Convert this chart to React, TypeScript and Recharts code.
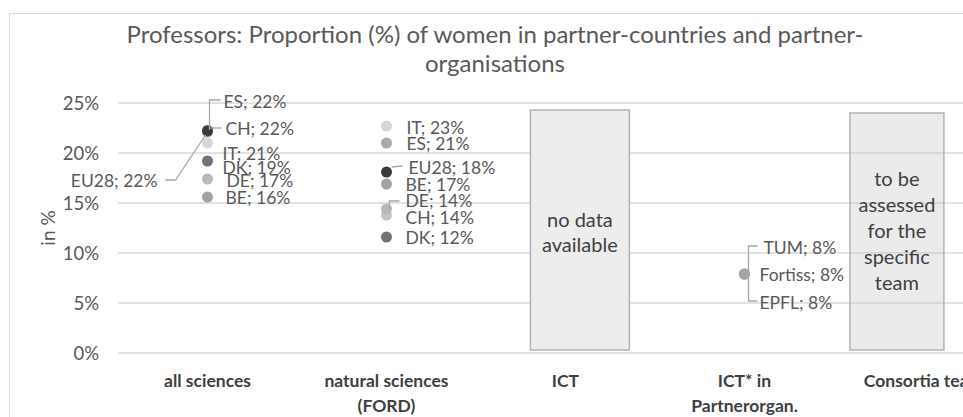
import React from 'react';
import { ComposedChart, Line, Bar, XAxis, YAxis, CartesianGrid, LabelList } from 'recharts';

const categories = ['all sciences', 'natural sciences (FORD)', 'ICT', 'ICT* in Partnerorgan.', 'Consortia team'];
const categoryLines: string[][] = [['all sciences'], ['natural sciences', '(FORD)'], ['ICT'], ['ICT* in', 'Partnerorgan.'], ['Consortia team']];
const yTicks = [0, 5, 10, 15, 20, 25];

// values in %
const IT = [21.0, 22.7, null, null, null];
const ES = [22.3, 21.0, null, null, null];
const CH = [22.1, 13.8, null, null, null];
const DE = [17.4, 14.4, null, null, null];
const BE = [15.6, 16.9, null, null, null];
const DK = [19.2, 11.6, null, null, null];
const EU28 = [22.2, 18.1, null, null, null];
const TUM = [null, null, null, 7.9, null];
const Fortiss = [null, null, null, 7.9, null];
const EPFL = [null, null, null, 7.9, null];
const boxICT = [null, null, 24.3, null, null];
const boxTeam = [null, null, null, null, 24.0];

const seriesNames = ['IT', 'ES', 'CH', 'DE', 'BE', 'DK', 'EU28', 'TUM', 'Fortiss', 'EPFL'];
const seriesValues: Record<string, (number | null)[]> = { IT, ES, CH, DE, BE, DK, EU28, TUM, Fortiss, EPFL };
const seriesColors: Record<string, string> = {
  IT: '#d6d6d6', ES: '#a9a9a9', CH: '#c4c4c4', DE: '#b8b8b8', BE: '#a3a3a3', DK: '#737373',
  EU28: '#3a3a3a', TUM: '#a6a6a6', Fortiss: '#a6a6a6', EPFL: '#a6a6a6',
};

const data = categories.map((cat, i) => {
  const row: Record<string, any> = { cat, boxICT: boxICT[i], boxTeam: boxTeam[i] };
  seriesNames.forEach((s) => { row[s] = seriesValues[s][i]; });
  return row;
});

// label placement relative to dot centre: dx, dy, anchor, leader path
type LabelLayout = { dx: number; dy: number; anchor?: 'start' | 'end'; leader?: string };
const labelLayout: Record<string, LabelLayout> = {
  'ES-0': { dx: 16, dy: -29, leader: 'M 2 0 V -30 H 13' },
  'CH-0': { dx: 18, dy: -4, leader: 'M 3 -4 H 14' },
  'EU28-0': { dx: -50, dy: 49, anchor: 'end', leader: 'M -2 4 L -32 49 H -42' },
  'IT-0': { dx: 15, dy: 10 },
  'DK-0': { dx: 15, dy: 6 },
  'DE-0': { dx: 19, dy: 1 },
  'BE-0': { dx: 18, dy: 0 },
  'IT-1': { dx: 20, dy: 1 },
  'ES-1': { dx: 20, dy: 0 },
  'EU28-1': { dx: 22, dy: -5, leader: 'M 5 -5 L 16 -6' },
  'BE-1': { dx: 19, dy: 0 },
  'DE-1': { dx: 19, dy: -9, leader: 'M 3 0 V -8 H 13' },
  'CH-1': { dx: 19, dy: 2 },
  'DK-1': { dx: 19, dy: 0 },
  'TUM-3': { dx: 19, dy: -27, leader: 'M 4 0 V -28 H 13' },
  'Fortiss-3': { dx: 15, dy: 0 },
  'EPFL-3': { dx: 15, dy: 28, leader: 'M 4 0 V 27 H 13' },
};

const FONT = 'Lato, "Noto Sans", sans-serif';

const makeLabel = (name: string) => (props: any) => {
  const { x, y, value, index } = props;
  if (value == null || x == null || y == null) return null;
  const lay = labelLayout[`${name}-${index}`];
  if (!lay) return null;
  const rounded = Math.round(value);
  return (
    <g>
      {lay.leader && (
        <path d={lay.leader} transform={`translate(${x},${y})`} fill="none" stroke="#a6a6a6" strokeWidth={1.3} />
      )}
      <text
        x={x + lay.dx}
        y={y + lay.dy}
        textAnchor={lay.anchor || 'start'}
        dominantBaseline="central"
        fontFamily={FONT}
        fontSize={17.5}
        fill="#595959"
      >
        {`${name}; ${rounded}%`}
      </text>
    </g>
  );
};

const boxTexts: Record<string, { lines: string[]; offsetX: number; width: number; firstY: number; step: number; fill: string }> = {
  boxICT: { lines: ['no data', 'available'], offsetX: 14.5, width: 99, firstY: 109, step: 25, fill: '#ededed' },
  boxTeam: { lines: ['to be', 'assessed', 'for the', 'specific', 'team'], offsetX: -26.5, width: 94, firstY: 65, step: 26, fill: 'rgba(190,190,190,0.3)' },
};

const makeBox = (key: string) => (props: any) => {
  const { x, y, width, height, payload } = props;
  if (!payload || payload[key] == null || !(height > 1)) return null;
  const cfg = boxTexts[key];
  const cx = x + width / 2 + cfg.offsetX;
  return (
    <g>
      <rect x={cx - cfg.width / 2} y={y} width={cfg.width} height={height - 3} fill={cfg.fill} stroke="#b3b3b3" strokeWidth={1.5} />
      {cfg.lines.map((l, i) => (
        <text key={i} x={cx} y={y + cfg.firstY + i * cfg.step} textAnchor="middle" dominantBaseline="central"
          fontFamily={FONT} fontSize={20} fill="#404040">{l}</text>
      ))}
    </g>
  );
};

const CategoryTick = (props: any) => {
  const { x, y, index } = props;
  const lines = categoryLines[index] || [];
  return (
    <g>
      {lines.map((l, i) => (
        <text key={i} x={x} y={y + 27 + i * 25} textAnchor="middle" dominantBaseline="central"
          fontFamily={FONT} fontSize={17.5} fontWeight="bold" fill="#404040">{l}</text>
      ))}
    </g>
  );
};

export default function App() {
  return (
    <div style={{ position: 'fixed', left: 0, top: 0, width: 963, height: 417, overflow: 'hidden', background: '#fff' }}>
      <div style={{ position: 'absolute', left: 9, top: 13, width: 1100, height: 600, border: '1.5px solid #d9d9d9', boxSizing: 'border-box' }} />
      <svg width={963} height={417} style={{ position: 'absolute', left: 0, top: 0 }}>
        <text x={495} y={43} textAnchor="middle" fontFamily={FONT} fontSize={24} fill="#595959">
          Professors: Proportion (%) of women in partner-countries and partner-
        </text>
        <text x={495} y={72} textAnchor="middle" fontFamily={FONT} fontSize={24} fill="#595959">
          organisations
        </text>
        <text x={0} y={0} transform="translate(47,228) rotate(-90)" textAnchor="middle" dominantBaseline="central"
          fontFamily={FONT} fontSize={19} fill="#595959">in %</text>
      </svg>
      <div style={{ position: 'absolute', left: 0, top: 0 }}>
        <ComposedChart width={1016} height={440} data={data} margin={{ top: 103, right: 3, bottom: 7, left: 1 }}>
          <CartesianGrid horizontal vertical={false} stroke="#d9d9d9" strokeWidth={1.5} />
          <XAxis dataKey="cat" type="category" axisLine={false} tickLine={false} tickSize={0} tickMargin={0}
            height={80} interval={0} tick={<CategoryTick />} />
          <YAxis domain={[0, 25]} ticks={yTicks} width={117} axisLine={false} tickLine={false} tickSize={0} tickMargin={19}
            tickFormatter={(v: number) => `${v}%`} tick={{ fontFamily: FONT, fontSize: 18.5, fill: '#595959' }} />
          <Bar dataKey="boxTeam" stackId="box" shape={makeBox('boxTeam')} isAnimationActive={false} />
          <Bar dataKey="boxICT" stackId="box" shape={makeBox('boxICT')} isAnimationActive={false} />
          {seriesNames.map((s) => (
            <Line key={s} dataKey={s} stroke="none" isAnimationActive={false} activeDot={false} legendType="none"
              dot={{ r: 5.5, fill: seriesColors[s], stroke: 'none' }}>
              <LabelList dataKey={s} content={makeLabel(s)} />
            </Line>
          ))}
        </ComposedChart>
      </div>
    </div>
  );
}
